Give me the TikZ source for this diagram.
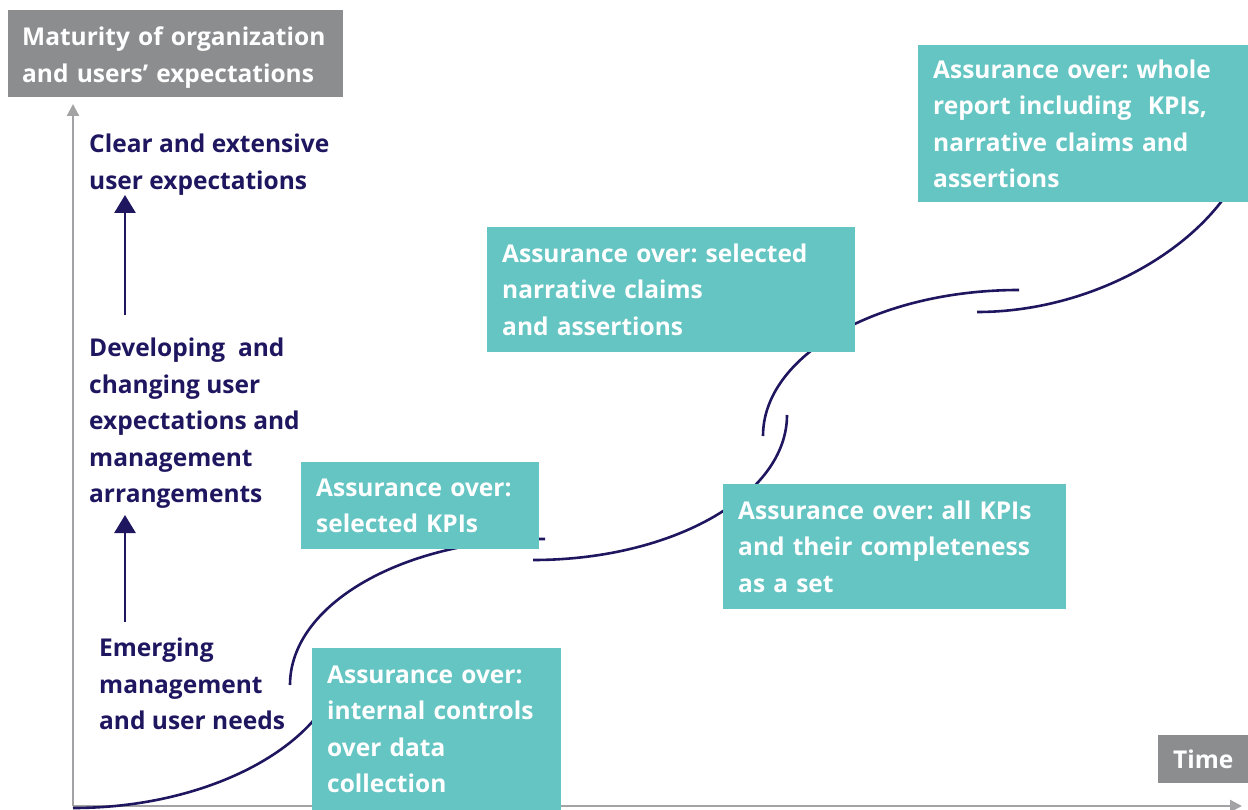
\documentclass[tikz,border=0pt]{standalone}
\usepackage{fontspec}
\setsansfont{Open Sans}
\usetikzlibrary{arrows.meta}
\definecolor{teal1}{HTML}{64C5C3}
\definecolor{navy}{HTML}{1E1760}
\definecolor{boxgray}{HTML}{8C8D8F}
\definecolor{axisgray}{HTML}{A3A3A5}
\tikzset{
  txt/.style={font=\sffamily\bfseries\fontsize{24.5}{36.5}\selectfont\frenchspacing},
  tealbox/.style={txt, fill=teal1, text=white, anchor=north west, align=left, inner xsep=15pt, inner ysep=0pt},
  graybox/.style={txt, fill=boxgray, text=white, anchor=north west, align=left, inner xsep=14pt, inner ysep=0pt},
  lbl/.style={txt, text=navy, anchor=north west, align=left, inner sep=0pt},
  curve/.style={draw=navy, line width=2.6pt},
  axis/.style={draw=axisgray, line width=2.2pt, -{Triangle[width=12pt,length=12pt]}},
  uparrow/.style={draw=navy, line width=2.8pt, -{Triangle[width=21pt,length=18pt]}}
}
\begin{document}
\begin{tikzpicture}[x=1pt,y=-1pt]
\useasboundingbox (0,0) rectangle (1248,810);
% axes
\coordinate (o) at (73,806);
\coordinate (ytip) at (73,104);
\coordinate (xtip) at (1242,806);
\draw[axis] (o) -- (ytip);
\draw[axis] (o) -- (xtip);
% curves
\coordinate (a0) at (73,808); \coordinate (a1) at (343,650);
\coordinate (b0) at (290,685); \coordinate (b1) at (545,539);
\coordinate (c0) at (533,560); \coordinate (c1) at (787,415);
\coordinate (d0) at (763,436); \coordinate (d1) at (1019,290);
\coordinate (e0) at (977,312); \coordinate (e1) at (1245,160);
\draw[curve] (a0) .. controls (222,808) and (343,734) .. (a1);
\draw[curve] (b0) .. controls (290,604) and (404,539) .. (b1);
\draw[curve] (c0) .. controls (673,560) and (787,495) .. (c1);
\draw[curve] (d0) .. controls (763,355) and (878,290) .. (d1);
\draw[curve] (e0) .. controls (1100,312) and (1215,240) .. (e1);
% gray boxes
\node[graybox, minimum width=335pt, minimum height=87pt, text width=307pt] (mat) at (8,10) {\rule{0pt}{26pt}Maturity of organization\\and users’ expectations};
\node[graybox, minimum width=90pt, minimum height=48pt, align=center, inner xsep=0pt, text width=90pt] (time) at (1158,735) {Time};
% teal boxes
\node[tealbox, minimum width=249pt, minimum height=162pt, text width=219pt] (b1box) at (312,648) {Assurance over:\\internal controls\\over data\\collection};
\node[tealbox, minimum width=238pt, minimum height=87pt, text width=208pt] (b2box) at (301,462) {Assurance over:\\selected KPIs};
\node[tealbox, minimum width=343pt, minimum height=125pt, text width=313pt] (b3box) at (723,484) {Assurance over: all KPIs\\and their completeness\\as a set};
\node[tealbox, minimum width=368pt, minimum height=125pt, text width=338pt] (b4box) at (487,227) {Assurance over: selected\\narrative claims\\and assertions};
\node[tealbox, minimum width=330pt, minimum height=157pt, text width=300pt] (b5box) at (918,45) {Assurance over: whole\\report including\ \ KPIs,\\narrative claims and\\assertions};
% left labels
\node[lbl] (clear) at (89,134) {Clear and extensive\\user expectations};
\node[lbl] (dev) at (89,338) {Developing\ \ and\\changing user\\expectations and\\management\\arrangements};
\node[lbl] (emg) at (99,638) {Emerging\\management\\and user needs};
\coordinate (ar1s) at (125,315); \coordinate (ar1e) at (125,195);
\coordinate (ar2s) at (125,622); \coordinate (ar2e) at (125,515);
\draw[uparrow] (ar1s) -- (ar1e);
\draw[uparrow] (ar2s) -- (ar2e);
\end{tikzpicture}
\end{document}
